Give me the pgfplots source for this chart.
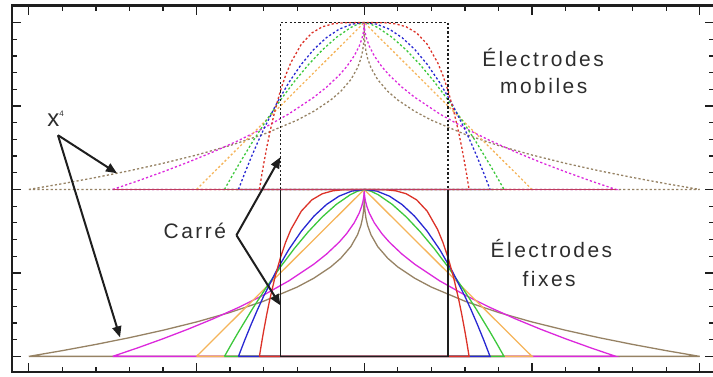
\documentclass[border=0pt]{standalone}
\usepackage{fontspec}
\setmainfont{Liberation Sans}
\newfontfamily\lsfont[LetterSpace=12]{Liberation Sans}
\usepackage{pgfplots}
\pgfplotsset{compat=1.18}
\usepackage{pgfplotstable}
\usetikzlibrary{arrows.meta}
\definecolor{cRed}{RGB}{220,50,40}
\definecolor{cBlue}{RGB}{40,40,210}
\definecolor{cGreen}{RGB}{60,200,60}
\definecolor{cYel}{RGB}{245,180,90}
\definecolor{cMag}{RGB}{220,40,220}
\definecolor{cBrown}{RGB}{150,130,100}
\definecolor{cBlk}{RGB}{30,30,30}
\definecolor{cMix}{RGB}{190,60,95}
\definecolor{txt}{RGB}{45,45,45}

\pgfplotstableread{
x y yt
-3.125 0 1
-3.0625 0.0776 1.0776
-3.0 0.1507 1.1507
-2.9063 0.2519 1.2519
-2.8125 0.3439 1.3439
-2.6563 0.4780 1.4780
-2.5 0.5904 1.5904
-2.3438 0.6836 1.6836
-2.1875 0.7599 1.7599
-1.875 0.8704 1.8704
-1.5625 0.9375 1.9375
-1.25 0.9744 1.9744
-0.9375 0.9919 1.9919
-0.625 0.9984 1.9984
0 1 2
0.625 0.9984 1.9984
0.9375 0.9919 1.9919
1.25 0.9744 1.9744
1.5625 0.9375 1.9375
1.875 0.8704 1.8704
2.1875 0.7599 1.7599
2.3438 0.6836 1.6836
2.5 0.5904 1.5904
2.6563 0.4780 1.4780
2.8125 0.3439 1.3439
2.9063 0.2519 1.2519
3.0 0.1507 1.1507
3.0625 0.0776 1.0776
3.125 0 1
-3.125 0 1
}\tabRed

\pgfplotstableread{
x y yt
-3.75 0 1
-3.5625 0.0975 1.0975
-3.375 0.19 1.19
-3.1875 0.2775 1.2775
-3.0 0.36 1.36
-2.625 0.51 1.51
-2.25 0.64 1.64
-1.875 0.75 1.75
-1.5 0.84 1.84
-1.125 0.91 1.91
-0.75 0.96 1.96
-0.375 0.99 1.99
0 1 2
0.375 0.99 1.99
0.75 0.96 1.96
1.125 0.91 1.91
1.5 0.84 1.84
1.875 0.75 1.75
2.25 0.64 1.64
2.625 0.51 1.51
3.0 0.36 1.36
3.1875 0.2775 1.2775
3.375 0.19 1.19
3.5625 0.0975 1.0975
3.75 0 1
-3.75 0 1
}\tabBlue

\pgfplotstableread{
x y yt
-4.1667 0 1
-3.9583 0.0741 1.0741
-3.75 0.1462 1.1462
-3.3333 0.2845 1.2845
-2.9167 0.4143 1.4143
-2.5 0.5352 1.5352
-2.0833 0.6464 1.6464
-1.6667 0.7470 1.7470
-1.25 0.8357 1.8357
-0.8333 0.9106 1.9106
-0.4167 0.9684 1.9684
-0.2083 0.9888 1.9888
0 1 2
0.2083 0.9888 1.9888
0.4167 0.9684 1.9684
0.8333 0.9106 1.9106
1.25 0.8357 1.8357
1.6667 0.7470 1.7470
2.0833 0.6464 1.6464
2.5 0.5352 1.5352
2.9167 0.4143 1.4143
3.3333 0.2845 1.2845
3.75 0.1462 1.1462
3.9583 0.0741 1.0741
4.1667 0 1
-4.1667 0 1
}\tabGreen

\pgfplotstableread{
x y yt
-5 0 1
0 1 2
5 0 1
-5 0 1
}\tabYel

\pgfplotstableread{
x y yt
-7.5 0 1
-6.75 0.0513 1.0513
-6.0 0.1056 1.1056
-5.25 0.1633 1.1633
-4.5 0.2254 1.2254
-3.75 0.2929 1.2929
-3.0 0.3675 1.3675
-2.25 0.4523 1.4523
-1.5 0.5528 1.5528
-1.125 0.6127 1.6127
-0.75 0.6838 1.6838
-0.525 0.7354 1.7354
-0.3 0.8 1.8
-0.15 0.8586 1.8586
-0.075 0.9 1.9
-0.0375 0.9293 1.9293
-0.015 0.9553 1.9553
-0.00375 0.9776 1.9776
0 1 2
0.00375 0.9776 1.9776
0.015 0.9553 1.9553
0.0375 0.9293 1.9293
0.075 0.9 1.9
0.15 0.8586 1.8586
0.3 0.8 1.8
0.525 0.7354 1.7354
0.75 0.6838 1.6838
1.125 0.6127 1.6127
1.5 0.5528 1.5528
2.25 0.4523 1.4523
3.0 0.3675 1.3675
3.75 0.2929 1.2929
4.5 0.2254 1.2254
5.25 0.1633 1.1633
6.0 0.1056 1.1056
6.75 0.0513 1.0513
7.5 0 1
-7.5 0 1
}\tabMag

\pgfplotstableread{
x y yt
-10 0 1
-9 0.0345 1.0345
-8 0.0717 1.0717
-7 0.1121 1.1121
-6 0.1566 1.1566
-5 0.2063 1.2063
-4 0.2632 1.2632
-3 0.3306 1.3306
-2 0.4152 1.4152
-1.5 0.4687 1.4687
-1.0 0.5358 1.5358
-0.7 0.5879 1.5879
-0.4 0.6580 1.6580
-0.2 0.7286 1.7286
-0.1 0.7846 1.7846
-0.05 0.8290 1.8290
-0.02 0.8740 1.8740
-0.005 0.9206 1.9206
-0.001 0.9536 1.9536
0 1 2
0.001 0.9536 1.9536
0.005 0.9206 1.9206
0.02 0.8740 1.8740
0.05 0.8290 1.8290
0.1 0.7846 1.7846
0.2 0.7286 1.7286
0.4 0.6580 1.6580
0.7 0.5879 1.5879
1.0 0.5358 1.5358
1.5 0.4687 1.4687
2 0.4152 1.4152
3 0.3306 1.3306
4 0.2632 1.2632
5 0.2063 1.2063
6 0.1566 1.1566
7 0.1121 1.1121
8 0.0717 1.0717
9 0.0345 1.0345
10 0 1
-10 0 1
}\tabBrown

\pgfplotstableread{
x y yt
-2.5 0 1
-2.5 1 2
2.5 1 2
2.5 0 1
-2.5 0 1
}\tabSquare

\pgfplotstableread{
x y
-7.5 1
7.5 1
}\tabMid

\begin{document}
\begin{tikzpicture}
\begin{axis}[
  scale only axis, width=701bp, height=366.5bp,
  xmin=-10.5, xmax=10.42, ymin=-0.096, ymax=2.102,
  xtick={-10,-5,0,5,10}, minor x tick num=4,
  ytick={0,0.5,1,1.5,2}, minor y tick num=4,
  xticklabels={}, yticklabels={},
  tick align=inside, tick pos=both,
  major tick length=9bp, minor tick length=5bp,
  axis line style={line width=2bp, color=cBlk},
  every tick/.style={line width=1.3bp, color=cBlk},
  clip=false,
  solidc/.style={line width=1.3bp},
  dashc/.style={line width=1.3bp, dash pattern=on 2.2bp off 2.2bp},
]
% mobile electrodes (dashed)
\addplot[cBrown, dashc] table[x=x,y=yt]{\tabBrown};
\addplot[cMag, dashc] table[x=x,y=yt]{\tabMag};
\addplot[cYel, dashc] table[x=x,y=yt]{\tabYel};
\addplot[cGreen, dashc] table[x=x,y=yt]{\tabGreen};
\addplot[cBlue, dashc] table[x=x,y=yt]{\tabBlue};
\addplot[cRed, dashc] table[x=x,y=yt]{\tabRed};
\addplot[cBlk, dashc] table[x=x,y=yt]{\tabSquare};
% fixed electrodes (solid)
\addplot[cBrown, solidc] table[x=x,y=y]{\tabBrown};
\addplot[cMag, solidc] table[x=x,y=y]{\tabMag};
\addplot[cYel, solidc] table[x=x,y=y]{\tabYel};
\addplot[cGreen, solidc] table[x=x,y=y]{\tabGreen};
\addplot[cBlue, solidc] table[x=x,y=y]{\tabBlue};
\addplot[cRed, solidc] table[x=x,y=y]{\tabRed};
\addplot[cBlk, solidc] table[x=x,y=y]{\tabSquare};
\addplot[cMix, solidc] table[x=x,y=y]{\tabMid};

\begin{scope}[every node/.style={font=\lsfont\fontsize{21}{25}\selectfont, text=txt, anchor=base, inner sep=0pt}]
\node at (axis cs:5.33,1.735) {Électrodes};
\node at (axis cs:5.35,1.577) {mobiles};
\node at (axis cs:5.58,0.594) {Électrodes};
\node at (axis cs:5.51,0.416) {fixes};
\node at (axis cs:-5.05,0.708) {Carré};
\node[font=\fontsize{24}{28}\selectfont] at (axis cs:-9.2,1.38) {x\raisebox{10bp}{\fontsize{8}{9}\selectfont 4}};
\end{scope}
\draw[cBlk, line width=2bp, -{Triangle[length=11bp,width=9bp]}] (axis cs:-9.13,1.325) -- (axis cs:-7.37,1.097);
\draw[cBlk, line width=2bp, -{Triangle[length=11bp,width=9bp]}] (axis cs:-9.13,1.325) -- (axis cs:-7.28,0.114);
\draw[cBlk, line width=2bp, -{Triangle[length=11bp,width=9bp]}] (axis cs:-3.81,0.726) -- (axis cs:-2.50,1.193);
\draw[cBlk, line width=2bp, -{Triangle[length=11bp,width=9bp]}] (axis cs:-3.81,0.726) -- (axis cs:-2.50,0.306);
\end{axis}
\pgfresetboundingbox
\path[use as bounding box] ([xshift=-12bp,yshift=-4bp]current axis.south west) rectangle ([xshift=-0.8bp,yshift=5.5bp]current axis.north east);
\end{tikzpicture}
\end{document}
